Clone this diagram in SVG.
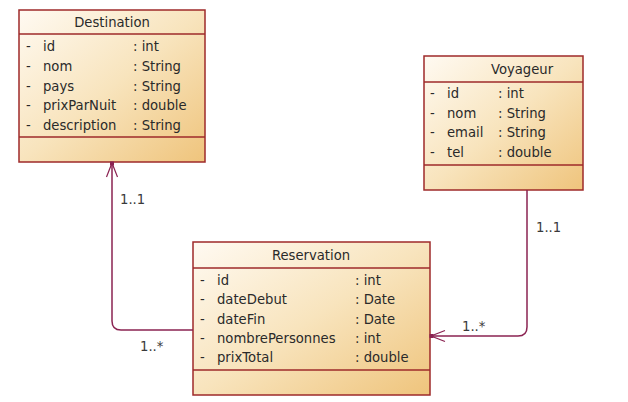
<svg xmlns="http://www.w3.org/2000/svg" width="628" height="402" viewBox="0 0 628 402">
<defs>
<linearGradient id="g" x1="0" y1="0" x2="1" y2="1">
<stop offset="0" stop-color="#fffaf2"/>
<stop offset="0.5" stop-color="#f8e4bd"/>
<stop offset="1" stop-color="#efc47c"/>
</linearGradient>
<marker id="open" markerWidth="18" markerHeight="14" refX="16" refY="7" orient="auto" markerUnits="userSpaceOnUse">
<path d="M2,1.5 L16,7 L2,12.5" fill="none" stroke="#8b2352" stroke-width="1.2"/>
<rect x="13.5" y="5" width="4" height="4" fill="#8b2352"/>
</marker>
</defs>
<style>
.box{fill:url(#g);stroke:#9e2a2a;stroke-width:1.5}
.sep{stroke:#9e2a2a;stroke-width:1.5}
text{font-family:"DejaVu Sans",sans-serif;font-size:13.2px;fill:#2a2a2a}
.title{text-anchor:middle}
.conn{fill:none;stroke:#8b2352;stroke-width:1.5}
.lbl{fill:#3a3a3a}
</style>
<g id="Destination">
<rect class="box" x="19" y="10" width="186" height="152"/>
<line class="sep" x1="19" y1="34" x2="205" y2="34"/>
<line class="sep" x1="19" y1="137" x2="205" y2="137"/>
<text class="title" x="112" y="27">Destination</text>
<text x="26" y="51">-</text><text x="43" y="51">id</text><text x="133" y="51">: int</text>
<text x="26" y="71">-</text><text x="43" y="71">nom</text><text x="133" y="71">: String</text>
<text x="26" y="91">-</text><text x="43" y="91">pays</text><text x="133" y="91">: String</text>
<text x="26" y="110">-</text><text x="43" y="110">prixParNuit</text><text x="133" y="110">: double</text>
<text x="26" y="130">-</text><text x="43" y="130">description</text><text x="133" y="130">: String</text>
</g>
<g id="Voyageur">
<rect class="box" x="424" y="56" width="159" height="134"/>
<line class="sep" x1="424" y1="82" x2="583" y2="82"/>
<line class="sep" x1="424" y1="165" x2="583" y2="165"/>
<text class="title" x="522" y="74">Voyageur</text>
<text x="430" y="98">-</text><text x="447" y="98">id</text><text x="498" y="98">: int</text>
<text x="430" y="118">-</text><text x="447" y="118">nom</text><text x="498" y="118">: String</text>
<text x="430" y="137">-</text><text x="447" y="137">email</text><text x="498" y="137">: String</text>
<text x="430" y="157">-</text><text x="447" y="157">tel</text><text x="498" y="157">: double</text>
</g>
<g id="Reservation">
<rect class="box" x="193" y="242" width="237" height="153"/>
<line class="sep" x1="193" y1="268" x2="430" y2="268"/>
<line class="sep" x1="193" y1="370" x2="430" y2="370"/>
<text class="title" x="311" y="260">Reservation</text>
<text x="200" y="285">-</text><text x="217" y="285">id</text><text x="355" y="285">: int</text>
<text x="200" y="304">-</text><text x="217" y="304">dateDebut</text><text x="355" y="304">: Date</text>
<text x="200" y="324">-</text><text x="217" y="324">dateFin</text><text x="355" y="324">: Date</text>
<text x="200" y="343">-</text><text x="217" y="343">nombrePersonnes</text><text x="355" y="343">: int</text>
<text x="200" y="362">-</text><text x="217" y="362">prixTotal</text><text x="355" y="362">: double</text>
</g>
<g id="connectors">
<path class="conn" d="M193,330 L121,330 Q112,330 112,321 L112,163" marker-end="url(#open)"/>
<path class="conn" d="M527,190 L527,327 Q527,336 518,336 L431,336" marker-end="url(#open)"/>
<text class="lbl" x="120" y="204">1..1</text>
<text class="lbl" x="140" y="351">1..*</text>
<text class="lbl" x="536" y="232">1..1</text>
<text class="lbl" x="462" y="331">1..*</text>
</g>
</svg>
